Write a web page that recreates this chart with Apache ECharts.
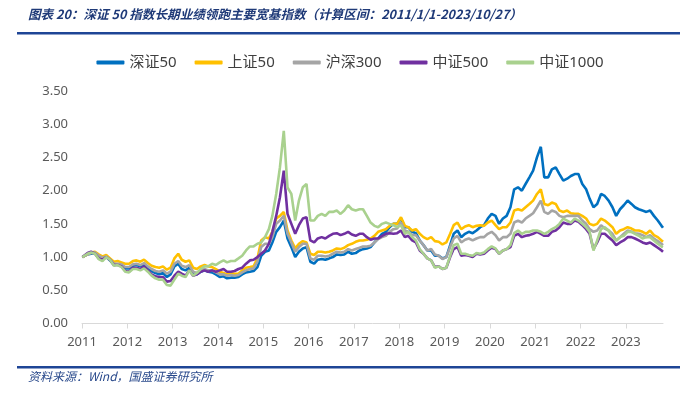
<!DOCTYPE html>
<html>
<head>
<meta charset="utf-8">
<script src="https://cdn.jsdelivr.net/npm/echarts@6/dist/echarts.min.js"></script>
<style>
  html, body { margin: 0; padding: 0; background: #fff; }
  #main-chart { width: 700px; height: 405px; }
</style>
</head>
<body>
<div id="main-chart"></div>
<script>
// =========================================
// 数据 (读图估计, 2011-01-04 起, 每月15日, 2023-10-27 止)
// =========================================
const seriesNames = ['深证50', '上证50', '沪深300', '中证500', '中证1000'];
const seriesColors = ['#0070C0', '#FFC000', '#A5A5A5', '#7030A0', '#A9D18E'];
const yearTicks = [2011, 2012, 2013, 2014, 2015, 2016, 2017, 2018, 2019, 2020, 2021, 2022, 2023];

const dates = ['2011-01-04'];
for (let y = 2011; y <= 2023; y++) {
    for (let m = 1; m <= 12; m++) {
        if (y === 2011 && m === 1) continue;
        if (y === 2023 && m > 10) break;
        dates.push(y + '-' + String(m).padStart(2, '0') + '-15');
    }
}
dates.push('2023-10-27');

const sz50 = [
    1.00, 1.04, 1.05, 1.06, 1.01, 0.98, 1.00, 0.95, 0.88, 0.89, 0.88, 0.83,
    0.83, 0.87, 0.88, 0.86, 0.88, 0.84, 0.79, 0.76, 0.74, 0.76, 0.70, 0.74,
    0.86, 0.90, 0.82, 0.80, 0.84, 0.75, 0.74, 0.78, 0.80, 0.78, 0.77, 0.74,
    0.70, 0.71, 0.68, 0.69, 0.69, 0.70, 0.74, 0.77, 0.78, 0.79, 0.85, 1.02,
    1.08, 1.10, 1.22, 1.38, 1.45, 1.55, 1.28, 1.15, 1.00, 1.08, 1.13, 1.15,
    0.93, 0.90, 0.96, 0.97, 0.96, 0.98, 1.00, 1.04, 1.03, 1.04, 1.08, 1.05,
    1.06, 1.10, 1.12, 1.13, 1.15, 1.22, 1.28, 1.35, 1.38, 1.45, 1.50, 1.50,
    1.58, 1.45, 1.45, 1.38, 1.36, 1.25, 1.18, 1.10, 1.10, 1.02, 1.02, 0.98,
    1.00, 1.18, 1.35, 1.40, 1.30, 1.35, 1.38, 1.36, 1.40, 1.45, 1.48, 1.58,
    1.65, 1.62, 1.50, 1.58, 1.62, 1.75, 2.02, 2.05, 2.00, 2.10, 2.20, 2.30,
    2.50, 2.66, 2.20, 2.20, 2.32, 2.35, 2.25, 2.15, 2.18, 2.22, 2.25, 2.25,
    2.10, 2.02, 1.88, 1.75, 1.80, 1.95, 1.92, 1.85, 1.75, 1.62, 1.72, 1.78,
    1.85, 1.80, 1.75, 1.72, 1.70, 1.68, 1.70, 1.62, 1.55, 1.47, 1.44
];
const shz50 = [
    1.00, 1.04, 1.07, 1.08, 1.04, 1.01, 1.03, 0.98, 0.93, 0.94, 0.92, 0.90,
    0.90, 0.94, 0.95, 0.93, 0.96, 0.91, 0.87, 0.85, 0.84, 0.86, 0.81, 0.84,
    0.98, 1.05, 0.96, 0.93, 0.95, 0.84, 0.82, 0.86, 0.88, 0.86, 0.85, 0.82,
    0.78, 0.76, 0.74, 0.76, 0.75, 0.75, 0.80, 0.84, 0.85, 0.86, 0.98, 1.25,
    1.30, 1.28, 1.38, 1.58, 1.62, 1.68, 1.40, 1.25, 1.13, 1.20, 1.24, 1.22,
    1.05, 1.03, 1.08, 1.08, 1.07, 1.08, 1.10, 1.13, 1.12, 1.14, 1.18, 1.20,
    1.23, 1.25, 1.25, 1.26, 1.28, 1.32, 1.38, 1.40, 1.42, 1.47, 1.50, 1.50,
    1.60, 1.47, 1.45, 1.40, 1.42, 1.35, 1.30, 1.27, 1.30, 1.24, 1.23, 1.19,
    1.22, 1.35, 1.48, 1.52, 1.42, 1.46, 1.48, 1.45, 1.47, 1.48, 1.47, 1.52,
    1.55, 1.48, 1.42, 1.45, 1.45, 1.52, 1.70, 1.72, 1.70, 1.75, 1.80, 1.85,
    1.95, 2.02, 1.80, 1.78, 1.82, 1.80, 1.70, 1.68, 1.70, 1.66, 1.65, 1.65,
    1.62, 1.58, 1.50, 1.48, 1.50, 1.58, 1.55, 1.50, 1.45, 1.35, 1.40, 1.42,
    1.45, 1.43, 1.40, 1.40, 1.38, 1.35, 1.40, 1.33, 1.30, 1.25, 1.23
];
const hs300 = [
    1.00, 1.04, 1.06, 1.07, 1.02, 0.99, 1.01, 0.96, 0.90, 0.90, 0.89, 0.85,
    0.85, 0.89, 0.90, 0.88, 0.91, 0.86, 0.82, 0.79, 0.78, 0.80, 0.75, 0.78,
    0.90, 0.94, 0.87, 0.85, 0.88, 0.78, 0.76, 0.80, 0.82, 0.80, 0.80, 0.77,
    0.74, 0.74, 0.72, 0.73, 0.72, 0.73, 0.77, 0.80, 0.82, 0.83, 0.93, 1.15,
    1.20, 1.20, 1.30, 1.50, 1.55, 1.62, 1.35, 1.22, 1.08, 1.15, 1.20, 1.20,
    0.98, 0.96, 1.02, 1.02, 1.01, 1.02, 1.05, 1.08, 1.07, 1.08, 1.12, 1.10,
    1.12, 1.14, 1.16, 1.16, 1.17, 1.22, 1.27, 1.30, 1.32, 1.38, 1.42, 1.43,
    1.52, 1.40, 1.38, 1.33, 1.33, 1.25, 1.18, 1.10, 1.12, 1.04, 1.02, 0.97,
    1.00, 1.15, 1.28, 1.32, 1.22, 1.26, 1.28, 1.25, 1.28, 1.30, 1.30, 1.35,
    1.38, 1.33, 1.25, 1.30, 1.30, 1.35, 1.52, 1.55, 1.52, 1.58, 1.62, 1.66,
    1.75, 1.85, 1.68, 1.65, 1.70, 1.68, 1.62, 1.60, 1.62, 1.62, 1.62, 1.62,
    1.55, 1.50, 1.42, 1.38, 1.40, 1.48, 1.43, 1.40, 1.35, 1.25, 1.30, 1.35,
    1.40, 1.38, 1.36, 1.35, 1.33, 1.30, 1.33, 1.28, 1.24, 1.20, 1.18
];
const zz500 = [
    1.00, 1.06, 1.08, 1.05, 0.98, 0.96, 1.00, 0.96, 0.88, 0.88, 0.86, 0.79,
    0.78, 0.84, 0.84, 0.82, 0.86, 0.80, 0.74, 0.71, 0.70, 0.70, 0.63, 0.64,
    0.72, 0.78, 0.75, 0.72, 0.80, 0.72, 0.74, 0.78, 0.80, 0.78, 0.80, 0.78,
    0.80, 0.82, 0.78, 0.78, 0.79, 0.82, 0.84, 0.90, 0.95, 0.96, 1.00, 1.05,
    1.10, 1.20, 1.38, 1.62, 1.90, 2.30, 1.65, 1.50, 1.35, 1.48, 1.58, 1.60,
    1.25, 1.22, 1.28, 1.30, 1.28, 1.32, 1.35, 1.36, 1.33, 1.35, 1.38, 1.34,
    1.32, 1.35, 1.35, 1.30, 1.26, 1.28, 1.28, 1.32, 1.35, 1.36, 1.35, 1.36,
    1.40, 1.30, 1.32, 1.25, 1.22, 1.10, 1.05, 0.98, 0.95, 0.85, 0.86, 0.82,
    0.84, 1.00, 1.12, 1.15, 1.02, 1.03, 1.02, 1.00, 1.05, 1.04, 1.05, 1.10,
    1.14, 1.12, 1.05, 1.10, 1.12, 1.15, 1.32, 1.35, 1.30, 1.32, 1.33, 1.35,
    1.38, 1.35, 1.32, 1.32, 1.38, 1.40, 1.45, 1.52, 1.50, 1.50, 1.55, 1.53,
    1.48, 1.42, 1.35, 1.12, 1.22, 1.35, 1.35, 1.30, 1.25, 1.18, 1.22, 1.25,
    1.30, 1.30, 1.28, 1.25, 1.22, 1.20, 1.22, 1.18, 1.14, 1.10, 1.08
];
const zz1000 = [
    1.00, 1.05, 1.07, 1.05, 0.97, 0.94, 1.00, 0.96, 0.87, 0.88, 0.85, 0.78,
    0.77, 0.82, 0.82, 0.80, 0.83, 0.78, 0.72, 0.68, 0.66, 0.66, 0.58, 0.57,
    0.66, 0.75, 0.72, 0.70, 0.80, 0.72, 0.76, 0.82, 0.86, 0.86, 0.90, 0.88,
    0.92, 0.95, 0.92, 0.94, 0.94, 0.98, 1.02, 1.10, 1.16, 1.16, 1.20, 1.22,
    1.30, 1.42, 1.62, 1.95, 2.35, 2.90, 2.05, 1.95, 1.55, 1.85, 2.05, 2.10,
    1.55, 1.55, 1.62, 1.65, 1.62, 1.68, 1.68, 1.70, 1.65, 1.70, 1.78, 1.72,
    1.70, 1.72, 1.72, 1.62, 1.52, 1.47, 1.45, 1.50, 1.52, 1.50, 1.48, 1.45,
    1.48, 1.35, 1.38, 1.30, 1.25, 1.12, 1.05, 0.98, 0.95, 0.84, 0.86, 0.82,
    0.84, 1.02, 1.18, 1.20, 1.05, 1.05, 1.03, 1.02, 1.06, 1.05, 1.07, 1.12,
    1.16, 1.13, 1.05, 1.10, 1.12, 1.18, 1.36, 1.40, 1.35, 1.38, 1.38, 1.40,
    1.40, 1.38, 1.35, 1.38, 1.42, 1.45, 1.50, 1.58, 1.55, 1.52, 1.58, 1.55,
    1.50, 1.45, 1.38, 1.10, 1.25, 1.42, 1.45, 1.40, 1.30, 1.25, 1.30, 1.32,
    1.38, 1.38, 1.35, 1.32, 1.28, 1.30, 1.30, 1.25, 1.20, 1.16, 1.15
];
const seriesValues = [sz50, shz50, hs300, zz500, zz1000];

// 日期 -> 小数年
function toYear(s) {
    const [y, m, d] = s.split('-').map(Number);
    const start = Date.UTC(y, 0, 1);
    const days = (Date.UTC(y + 1, 0, 1) - start) / 86400000;
    return y + (Date.UTC(y, m - 1, d) - start) / 86400000 / days;
}
const xs = dates.map(toYear);

// =========================================
// 图表
// =========================================
const FONT = '"Noto Sans", "Noto Sans CJK SC", sans-serif';
const chart = echarts.init(document.getElementById('main-chart'));

chart.setOption({
    animation: false,
    backgroundColor: '#fff',
    textStyle: { fontFamily: FONT },
    graphic: [
        {
            type: 'text', left: 28, top: 8,
            style: {
                text: '图表 20：深证 50 指数长期业绩领跑主要宽基指数（计算区间：2011/1/1-2023/10/27）',
                font: 'italic bold 12.6px "Noto Sans CJK SC"',
                fill: '#1F3A78'
            }
        },
        { type: 'rect', shape: { x: 17, y: 32, width: 663, height: 2.5 }, style: { fill: '#1E4596' } },
        { type: 'rect', shape: { x: 17, y: 366, width: 663, height: 2.5 }, style: { fill: '#1E4596' } },
        {
            type: 'text', left: 28, top: 370,
            style: {
                text: '资料来源：Wind，国盛证券研究所',
                font: 'italic 12px "Noto Sans CJK SC"',
                fill: '#2A4A8C'
            }
        }
    ],
    legend: {
        top: 50,
        left: 'center',
        icon: 'roundRect',
        itemWidth: 28,
        itemHeight: 4,
        itemGap: 18,
        textStyle: { fontSize: 15, color: '#404040', fontFamily: FONT },
        data: seriesNames
    },
    grid: { left: 82, right: 37, top: 91, bottom: 81.5 },
    xAxis: {
        type: 'value',
        min: 2011,
        max: toYear('2023-10-27'),
        splitLine: { show: false },
        axisLine: { show: true, onZero: false, lineStyle: { color: '#D9D9D9', width: 1 } },
        axisTick: { show: true, length: 5, lineStyle: { color: '#D9D9D9' }, customValues: yearTicks },
        axisLabel: {
            customValues: yearTicks,
            color: '#595959', fontSize: 13, margin: 12,
            formatter: v => String(Math.round(v))
        }
    },
    yAxis: {
        type: 'value',
        min: 0,
        max: 3.5,
        interval: 0.5,
        splitLine: { show: false },
        axisLine: { show: false },
        axisTick: { show: false },
        axisLabel: { color: '#595959', fontSize: 13, margin: 14, formatter: v => v.toFixed(2) }
    },
    series: seriesNames.map((name, i) => ({
        name: name,
        type: 'line',
        showSymbol: false,
        data: xs.map((x, j) => [x, seriesValues[i][j]]),
        lineStyle: { color: seriesColors[i], width: 2.6 },
        itemStyle: { color: seriesColors[i] }
    }))
});
</script>
</body>
</html>
